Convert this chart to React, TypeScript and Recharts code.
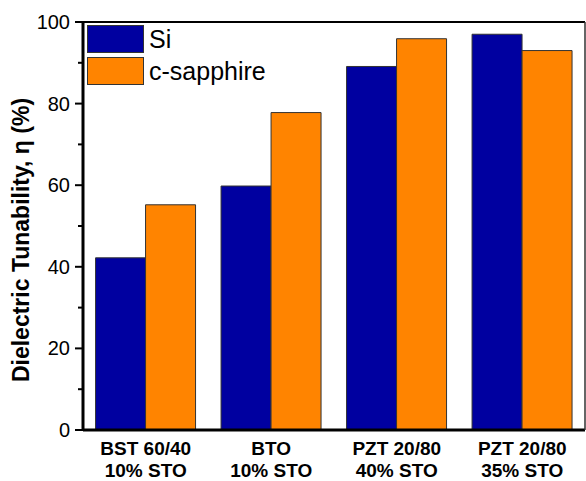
import React from 'react';
import { BarChart, Bar, XAxis, YAxis, Legend, ReferenceLine } from 'recharts';

const categories = ['BST 60/40|10% STO', 'BTO|10% STO', 'PZT 20/80|40% STO', 'PZT 20/80|35% STO'];
const siValues = [42.2, 59.8, 89.1, 97.0];
const sapphireValues = [55.2, 77.8, 95.9, 93.0];
const yTicks = [0, 10, 20, 30, 40, 50, 60, 70, 80, 90, 100];
const seriesNames = ['Si', 'c-sapphire'];
const colors = ['#0000A0', '#FF8400'];
const yLabel = 'Dielectric Tunability, η (%)';

const data = categories.map((c, i) => ({ name: c, si: siValues[i], sapphire: sapphireValues[i] }));

const FONT = '"Liberation Sans", Arial, sans-serif';

const YTick = (props: any) => {
  const { x, y, payload } = props;
  const v = payload.value;
  const major = v % 20 === 0;
  return (
    <g>
      <line x1={x - (major ? 8 : 5)} x2={x} y1={y} y2={y} stroke="#000" strokeWidth={2} />
      {major && (
        <text x={x - 13} y={y} dy={7} textAnchor="end" fontSize={20} fontFamily={FONT} fill="#000">
          {v}
        </text>
      )}
    </g>
  );
};

const XTick = (props: any) => {
  const { x, y, payload } = props;
  const lines = String(payload.value).split('|');
  return (
    <g>
      {lines.map((l, i) => (
        <text key={i} x={x} y={y + 25 + i * 22} textAnchor="middle" fontSize={19} fontWeight="bold" fontFamily={FONT} fill="#000">
          {l}
        </text>
      ))}
    </g>
  );
};

const YLabel = (props: any) => {
  const vb = props.viewBox || {};
  const cx = 29;
  const cy = (vb.y ?? 22) + (vb.height ?? 408) / 2 + 14;
  return (
    <text
      x={cx}
      y={cy}
      transform={`rotate(-90, ${cx}, ${cy})`}
      textAnchor="middle"
      fontSize={23}
      fontWeight="bold"
      fontFamily={FONT}
      fill="#000"
    >
      {yLabel}
    </text>
  );
};

const LegendContent = () => (
  <div style={{ fontFamily: FONT, fontSize: 25, lineHeight: '27px' }}>
    {seriesNames.map((n, i) => (
      <div key={n} style={{ display: 'flex', alignItems: 'center', marginBottom: 4 }}>
        <div style={{ width: 55, height: 26, background: colors[i], border: '1px solid #333', marginRight: 5 }} />
        <span style={{ color: '#000' }}>{n}</span>
      </div>
    ))}
  </div>
);

export default function App() {
  return (
    <div style={{ position: 'absolute', left: 0, top: 0, width: 586, height: 481, background: '#fff' }}>
      <BarChart width={586} height={481} data={data} margin={{ top: 22, right: 0, bottom: 0, left: 0 }} barCategoryGap="10%" barGap={0}>
        <XAxis dataKey="name" height={51} tickLine={false} tickSize={0} tickMargin={0} tick={<XTick />} axisLine={{ stroke: '#000', strokeWidth: 3 }} interval={0} />
        <YAxis
          domain={[0, 100]}
          ticks={yTicks}
          interval={0}
          width={83}
          tickLine={false}
          tickSize={0}
          tickMargin={0}
          tick={<YTick />}
          axisLine={{ stroke: '#000', strokeWidth: 3 }}
          label={<YLabel />}
        />
        <YAxis yAxisId="r" orientation="right" width={1} domain={[0, 100]} tick={false} tickLine={false} axisLine={{ stroke: '#333', strokeWidth: 1.5 }} />
        <ReferenceLine y={100} stroke="#000" strokeWidth={2} />
        <Legend
          layout="vertical"
          align="center"
          verticalAlign="middle"
          content={<LegendContent />}
          wrapperStyle={{ left: 87, top: 25, width: 200, height: 60 }}
        />
        <Bar dataKey="si" name="Si" fill={colors[0]} stroke="#333" strokeWidth={1} isAnimationActive={false} />
        <Bar dataKey="sapphire" name="c-sapphire" fill={colors[1]} stroke="#333" strokeWidth={1} isAnimationActive={false} />
      </BarChart>
    </div>
  );
}
